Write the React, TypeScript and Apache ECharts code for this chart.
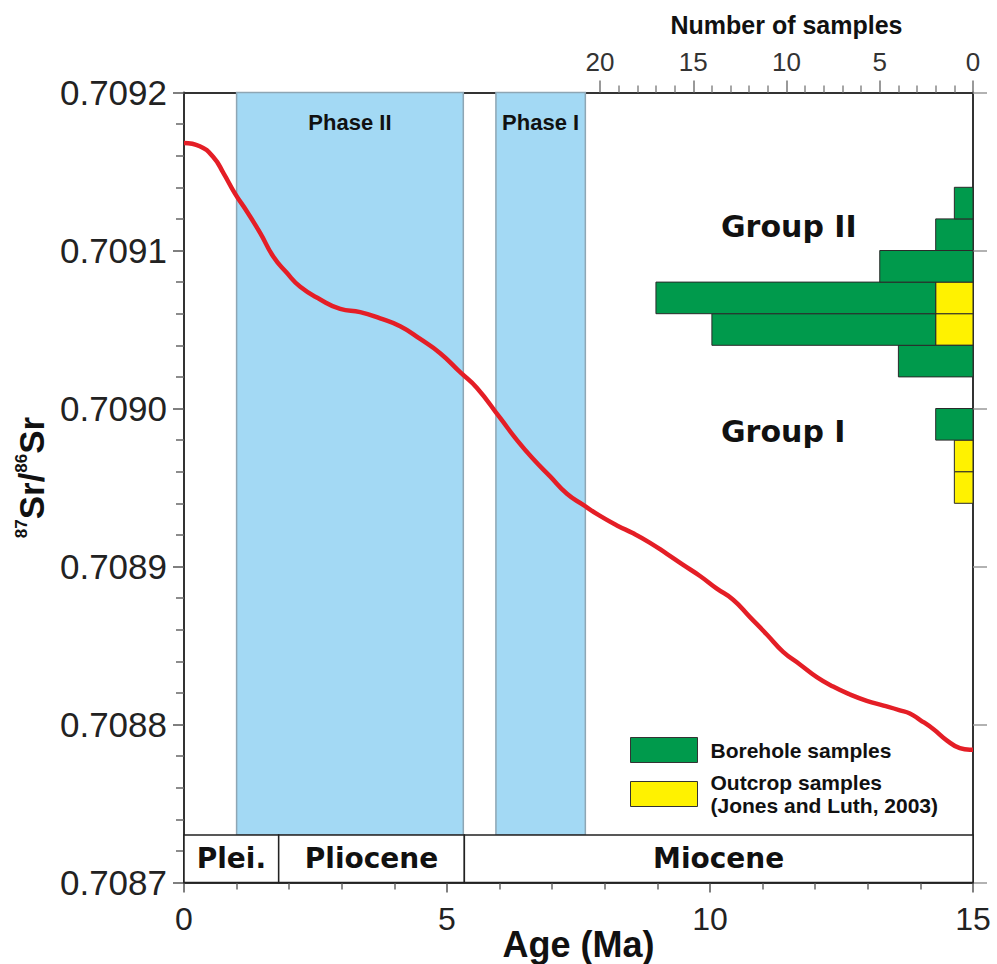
import * as echarts from 'echarts';
import { useEffect, useRef } from 'react';

// Sr isotope seawater curve (age in Ma, 87Sr/86Sr)
const ages = [0, 0.30, 0.56, 0.75, 0.97, 1.19, 1.45, 1.70, 1.95, 2.21, 2.59, 2.97, 3.35, 3.73, 4.11, 4.49, 4.87, 5.25, 5.57, 6.01, 6.33, 6.64, 6.96, 7.28, 7.59, 7.91, 8.23, 8.54, 8.86, 9.18, 9.49, 9.81, 10.13, 10.44, 10.76, 11.08, 11.39, 11.71, 12.03, 12.34, 12.66, 12.98, 13.30, 13.61, 13.80, 13.99, 14.25, 14.50, 14.75, 14.94, 15];
const srValues = [0.709168, 0.709166, 0.709159, 0.709149, 0.709136, 0.709125, 0.709111, 0.709096, 0.709086, 0.709077, 0.709069, 0.709063, 0.709061, 0.709057, 0.709052, 0.709044, 0.709035, 0.709023, 0.709013, 0.708994, 0.708980, 0.708968, 0.708957, 0.708946, 0.708939, 0.708932, 0.708926, 0.708921, 0.708915, 0.708908, 0.708901, 0.708894, 0.708886, 0.708879, 0.708868, 0.708857, 0.708846, 0.708838, 0.708830, 0.708824, 0.708819, 0.708815, 0.708812, 0.708809, 0.708807, 0.708803, 0.708797, 0.708790, 0.708785, 0.708784, 0.708784];

// Histogram bins (lower edge of each 0.00002 bin) and sample counts
const binWidth = 0.00002;
const binLower = [0.70894, 0.70896, 0.70898, 0.70900, 0.70902, 0.70904, 0.70906, 0.70908, 0.70910, 0.70912];
const boreholeCounts = [0, 0, 2, 0, 4, 12, 15, 5, 2, 1];
const outcropCounts = [1, 1, 0, 0, 0, 2, 2, 0, 0, 0];

// Phases and epochs (Ma)
const phaseNames = ['Phase II', 'Phase I'];
const phaseStart = [1.0, 5.93];
const phaseEnd = [5.31, 7.63];
const epochNames = ['Plei.', 'Pliocene', 'Miocene'];
const epochStart = [0, 1.8, 5.33];
const epochEnd = [1.8, 5.33, 15];
const epochBandTop = 0.70873;

const yTicks = ['0.7087', '0.7088', '0.7089', '0.7090', '0.7091', '0.7092'];

const SR_MIN = 0.7087;
const SR_MAX = 0.7092;

const GREEN = '#009a4c';
const YELLOW = '#fff200';
const FONT = "'Liberation Sans', Arial, sans-serif";
const WIDE = "'DejaVu Sans', sans-serif";

export default function App() {
  const ref = useRef<HTMLDivElement>(null);
  useEffect(() => {
    const chart = echarts.init(ref.current!, null, { renderer: 'svg' });

    const outcropData = binLower
      .map((lo, i) => [lo, lo + binWidth, 0, outcropCounts[i]])
      .filter((d) => d[3] > d[2]);
    const boreholeData = binLower
      .map((lo, i) => [lo, lo + binWidth, outcropCounts[i], outcropCounts[i] + boreholeCounts[i]])
      .filter((d) => d[3] > d[2]);

    const renderBar = (params: any, api: any) => {
      const lo = api.value(0);
      const hi = api.value(1);
      const x0 = api.value(2);
      const x1 = api.value(3);
      const p1 = api.coord([x0, hi]);
      const p2 = api.coord([x1, lo]);
      return {
        type: 'rect',
        shape: {
          x: Math.min(p1[0], p2[0]),
          y: Math.min(p1[1], p2[1]),
          width: Math.abs(p2[0] - p1[0]),
          height: Math.abs(p2[1] - p1[1]),
        },
        style: { fill: api.visual('color'), stroke: '#2a2a2a', lineWidth: 1 },
      };
    };

    const markAreaData: any[] = [];
    phaseNames.forEach((n, i) => {
      markAreaData.push([
        {
          name: n,
          xAxis: phaseStart[i],
          yAxis: epochBandTop,
          itemStyle: { color: '#a3d9f4', borderColor: '#8ea6b4', borderWidth: 1.5 },
          label: {
            show: true,
            position: 'insideTop',
            distance: 20,
            fontSize: 22,
            fontWeight: 'bold',
            color: '#111',
            fontFamily: FONT,
          },
        },
        { xAxis: phaseEnd[i], yAxis: SR_MAX },
      ]);
    });
    epochNames.forEach((n, i) => {
      markAreaData.push([
        {
          name: n,
          xAxis: epochStart[i],
          yAxis: SR_MIN,
          itemStyle: { color: '#ffffff', borderColor: '#222', borderWidth: 1.5 },
          label: {
            show: true,
            position: 'inside',
            fontSize: 28,
            fontWeight: 'bold',
            color: '#111',
            fontFamily: WIDE,
          },
        },
        { xAxis: epochEnd[i], yAxis: epochBandTop },
      ]);
    });

    const axisLineStyle = { color: '#333', width: 2 };

    chart.setOption({
      animation: false,
      grid: [
        { left: 184, right: 24, top: 92.5, bottom: 81.5, containLabel: false, outerBoundsMode: 'none' },
        { left: 600, right: 24, top: 92.5, bottom: 81.5, containLabel: false, outerBoundsMode: 'none' },
      ],
      legend: {
        data: ['Borehole samples', 'Outcrop samples'],
        orient: 'vertical',
        left: 630,
        top: 737,
        padding: 0,
        icon: 'rect',
        itemWidth: 67,
        itemHeight: 25,
        itemGap: 8,
        selectedMode: false,
        itemStyle: { borderColor: '#333', borderWidth: 1 },
        formatter: (name: string) =>
          name === 'Outcrop samples' ? 'Outcrop samples\n(Jones and Luth, 2003)' : name,
        textStyle: {
          fontSize: 21,
          fontWeight: 'bold',
          color: '#111',
          lineHeight: 23,
          fontFamily: FONT,
          padding: [0, 0, 0, 8],
        },
      },
      xAxis: [
        {
          type: 'value',
          gridIndex: 0,
          position: 'bottom',
          min: 0,
          max: 15,
          interval: 5,
          axisLine: { show: true, onZero: false, lineStyle: axisLineStyle },
          axisTick: { show: true, length: 10, lineStyle: { color: '#555', width: 1.5 } },
          minorTick: { show: true, splitNumber: 5, length: 7, lineStyle: { color: '#666', width: 1.5 } },
          splitLine: { show: false },
          minorSplitLine: { show: false },
          axisLabel: { fontSize: 32, color: '#222', margin: 20, fontFamily: FONT },
          name: 'Age (Ma)',
          nameLocation: 'middle',
          nameGap: 44,
          nameMoveOverlap: false,
          nameTextStyle: { fontSize: 36, fontWeight: 'bold', color: '#111', fontFamily: FONT },
        },
        {
          type: 'value',
          gridIndex: 0,
          position: 'top',
          min: 0,
          max: 15,
          axisLine: { show: true, onZero: false, lineStyle: axisLineStyle },
          axisTick: { show: false },
          axisLabel: { show: false },
          splitLine: { show: false },
        },
        {
          type: 'value',
          gridIndex: 1,
          position: 'top',
          inverse: true,
          min: 0,
          max: 20,
          interval: 5,
          axisLine: { show: true, onZero: false, lineStyle: axisLineStyle },
          axisTick: { show: true, length: 12, lineStyle: { color: '#777', width: 1.5 } },
          minorTick: { show: true, splitNumber: 5, length: 7, lineStyle: { color: '#888', width: 1.5 } },
          splitLine: { show: false },
          minorSplitLine: { show: false },
          axisLabel: { fontSize: 26, color: '#333', margin: 18, fontFamily: FONT },
          name: 'Number of samples',
          nameLocation: 'middle',
          nameGap: 55,
          nameTextStyle: { fontSize: 25, fontWeight: 'bold', color: '#111', fontFamily: FONT },
        },
      ],
      yAxis: [
        {
          type: 'value',
          gridIndex: 0,
          position: 'left',
          min: SR_MIN,
          max: SR_MAX,
          interval: 0.0001,
          axisLine: { show: true, onZero: false, lineStyle: axisLineStyle },
          axisTick: { show: true, length: 11, lineStyle: { color: '#555', width: 1.5 } },
          minorTick: { show: true, splitNumber: 5, length: 8, lineStyle: { color: '#666', width: 1.5 } },
          splitLine: { show: false },
          minorSplitLine: { show: false },
          axisLabel: {
            fontSize: 35,
            color: '#222',
            margin: 17,
            fontFamily: FONT,
            formatter: (v: number) => {
              const s = v.toFixed(4);
              return yTicks.indexOf(s) >= 0 ? s : '';
            },
          },
          name: '{sup|87}{big|Sr/}{sup|86}{big|Sr}',
          nameLocation: 'middle',
          nameRotate: 90,
          nameGap: 132,
          nameTextStyle: {
            padding: [0, 0, 0, 20],
            rich: {
              sup: { fontSize: 17, lineHeight: 20, verticalAlign: 'top', fontWeight: 'bold', color: '#111', fontFamily: FONT },
              big: { fontSize: 35, lineHeight: 38, fontWeight: 'bold', color: '#111', fontFamily: FONT },
            },
          },
        },
        {
          type: 'value',
          gridIndex: 1,
          position: 'right',
          min: SR_MIN,
          max: SR_MAX,
          interval: 0.0001,
          axisLine: { show: true, onZero: false, lineStyle: axisLineStyle },
          axisTick: { show: true, length: 14, lineStyle: { color: '#999', width: 1.5 } },
          axisLabel: { show: false },
          splitLine: { show: false },
        },
      ],
      series: [
        {
          type: 'line',
          name: 'Sr curve',
          xAxisIndex: 0,
          yAxisIndex: 0,
          data: ages.map((a, i) => [a, srValues[i]]),
          showSymbol: false,
          smooth: 0.5,
          lineStyle: { color: '#e41e26', width: 4.5 },
          z: 5,
          markArea: { silent: true, data: markAreaData },
        },
        {
          type: 'custom',
          name: 'Outcrop samples',
          xAxisIndex: 2,
          yAxisIndex: 1,
          itemStyle: { color: YELLOW },
          encode: { x: [2, 3], y: [0, 1] },
          renderItem: renderBar,
          data: outcropData,
          z: 6,
        },
        {
          type: 'custom',
          name: 'Borehole samples',
          xAxisIndex: 2,
          yAxisIndex: 1,
          itemStyle: { color: GREEN },
          encode: { x: [2, 3], y: [0, 1] },
          renderItem: renderBar,
          data: boreholeData,
          z: 6,
        },
      ],
      graphic: [
        {
          type: 'text',
          x: 721,
          y: 226,
          style: { text: 'Group II', fontSize: 30, fontWeight: 'bold', fill: '#111', fontFamily: WIDE, textVerticalAlign: 'middle' },
        },
        {
          type: 'text',
          x: 721,
          y: 431,
          style: { text: 'Group I', fontSize: 30, fontWeight: 'bold', fill: '#111', fontFamily: WIDE, textVerticalAlign: 'middle' },
        },
      ],
    });
    return () => chart.dispose();
  }, []);
  return <div ref={ref} style={{ position: 'absolute', left: 0, top: 0, width: 997, height: 964 }} />;
}
